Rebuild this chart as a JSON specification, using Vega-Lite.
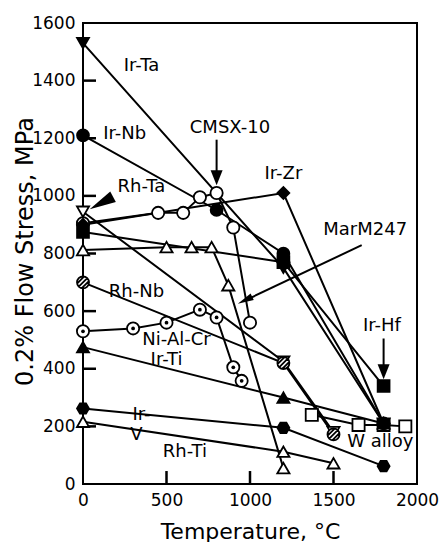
{
  "$schema": "https://vega.github.io/schema/vega-lite/v6.json",
  "width": 334,
  "height": 461,
  "autosize": {"type": "none"},
  "padding": {"left": 83, "top": 23, "right": 24, "bottom": 58},
  "background": "white",
  "config": {
    "view": {"stroke": "black", "strokeWidth": 2},
    "axis": {
      "grid": false,
      "domain": false,
      "ticks": false,
      "tickSize": 0,
      "labelPadding": 8,
      "labelFont": "DejaVu Sans",
      "labelFontSize": 17,
      "labelColor": "black",
      "titleFont": "DejaVu Sans",
      "titleFontSize": 22,
      "titleFontWeight": "normal",
      "titleColor": "black"
    }
  },
  "datasets": {
    "series": [
      {"s": "CMSX-10", "t": 0, "v": 905},
      {"s": "CMSX-10", "t": 450, "v": 941},
      {"s": "CMSX-10", "t": 600, "v": 941},
      {"s": "CMSX-10", "t": 700, "v": 995},
      {"s": "CMSX-10", "t": 800, "v": 1010},
      {"s": "CMSX-10", "t": 900, "v": 890},
      {"s": "CMSX-10", "t": 1000, "v": 560},
      {"s": "MarM247", "t": 0, "v": 812},
      {"s": "MarM247", "t": 500, "v": 822},
      {"s": "MarM247", "t": 650, "v": 822},
      {"s": "MarM247", "t": 770, "v": 822},
      {"s": "MarM247", "t": 870, "v": 690},
      {"s": "MarM247", "t": 1200, "v": 55},
      {"s": "Ni-Al-Cr", "t": 0, "v": 530},
      {"s": "Ni-Al-Cr", "t": 300, "v": 540},
      {"s": "Ni-Al-Cr", "t": 500, "v": 560},
      {"s": "Ni-Al-Cr", "t": 700, "v": 605},
      {"s": "Ni-Al-Cr", "t": 800, "v": 578},
      {"s": "Ni-Al-Cr", "t": 900, "v": 405},
      {"s": "Ni-Al-Cr", "t": 950, "v": 358},
      {"s": "W alloy", "t": 1370, "v": 240},
      {"s": "W alloy", "t": 1650, "v": 205},
      {"s": "W alloy", "t": 1800, "v": 205},
      {"s": "W alloy", "t": 1930, "v": 200},
      {"s": "Rh-Ti", "t": 0, "v": 216},
      {"s": "Rh-Ti", "t": 1200, "v": 112},
      {"s": "Rh-Ti", "t": 1500, "v": 72},
      {"s": "Rh-Ta", "t": 0, "v": 945},
      {"s": "Rh-Ta", "t": 1200, "v": 425},
      {"s": "Rh-Ta", "t": 1500, "v": 180},
      {"s": "Rh-Nb", "t": 0, "v": 700},
      {"s": "Rh-Nb", "t": 1200, "v": 420},
      {"s": "Rh-Nb", "t": 1500, "v": 172},
      {"s": "Ir-Ti", "t": 0, "v": 475},
      {"s": "Ir-Ti", "t": 1200, "v": 300},
      {"s": "Ir-Ti", "t": 1800, "v": 210},
      {"s": "Ir-V", "t": 0, "v": 262},
      {"s": "Ir-V", "t": 1200, "v": 195},
      {"s": "Ir-V", "t": 1800, "v": 62},
      {"s": "Ir-Nb", "t": 0, "v": 1210},
      {"s": "Ir-Nb", "t": 800, "v": 951},
      {"s": "Ir-Nb", "t": 1200, "v": 800},
      {"s": "Ir-Nb", "t": 1800, "v": 210},
      {"s": "Ir-Ta", "t": 0, "v": 1530},
      {"s": "Ir-Ta", "t": 1200, "v": 750},
      {"s": "Ir-Ta", "t": 1800, "v": 210},
      {"s": "Ir-Hf", "t": 0, "v": 875},
      {"s": "Ir-Hf", "t": 1200, "v": 770},
      {"s": "Ir-Hf", "t": 1800, "v": 340},
      {"s": "Ir-Zr", "t": 0, "v": 900},
      {"s": "Ir-Zr", "t": 1200, "v": 1010},
      {"s": "Ir-Zr", "t": 1800, "v": 210}
    ],
    "xticks": [{"t": 500}, {"t": 1000}, {"t": 1500}],
    "yticks": [{"v": 200}, {"v": 400}, {"v": 600}, {"v": 800}, {"v": 1000}, {"v": 1200}, {"v": 1400}],
    "arrows": [
      {"a": "CMSX-10", "t1": 800, "v1": 1195, "t2": 800, "v2": 1070},
      {"a": "Ir-Hf", "t1": 1800, "v1": 505, "t2": 1800, "v2": 395},
      {"a": "MarM247", "t1": 1669, "v1": 829, "t2": 985, "v2": 641}
    ],
    "vheads": [
      {"a": "CMSX-10", "t": 800, "v": 1063},
      {"a": "Ir-Hf", "t": 1800, "v": 390}
    ],
    "rhhead": [{"a": "Rh-Ta", "t": 110, "v": 975}],
    "mmhead": [{"a": "MarM247", "t": 970, "v": 638}],
    "labels": [
      {"label": "Ir-Ta", "t": 350, "v": 1450},
      {"label": "Ir-Nb", "t": 250, "v": 1215},
      {"label": "CMSX-10", "t": 880, "v": 1235},
      {"label": "Rh-Ta", "t": 350, "v": 1030},
      {"label": "Ir-Zr", "t": 1200, "v": 1075},
      {"label": "MarM247", "t": 1690, "v": 880},
      {"label": "Ir-Hf", "t": 1790, "v": 550},
      {"label": "Rh-Nb", "t": 320, "v": 665},
      {"label": "Ni-Al-Cr", "t": 560, "v": 500},
      {"label": "Ir-Ti", "t": 500, "v": 430},
      {"label": "Ir-", "t": 350, "v": 240},
      {"label": "V", "t": 320, "v": 170},
      {"label": "Rh-Ti", "t": 610, "v": 110},
      {"label": "W alloy", "t": 1780, "v": 145}
    ]
  },
  "layer": [
    {
      "data": {"name": "series"},
      "mark": {"type": "line", "stroke": "black", "strokeWidth": 2},
      "encoding": {
        "x": {"field": "t", "type": "quantitative", "scale": {"domain": [0, 2000], "nice": false},
          "axis": {"values": [0, 500, 1000, 1500, 2000], "format": "d", "title": "Temperature, °C", "labelFlush": false, "titleY": 54, "titleBaseline": "alphabetic"}},
        "y": {"field": "v", "type": "quantitative", "scale": {"domain": [0, 1600], "nice": false},
          "axis": {"values": [0, 200, 400, 600, 800, 1000, 1200, 1400, 1600], "format": "d", "title": "0.2% Flow Stress, MPa", "titleX": -51, "titleY": 228, "titleBaseline": "alphabetic", "titleFontSize": 24}},
        "detail": {"field": "s"}
      }
    },
    {
      "data": {"name": "xticks"},
      "mark": {"type": "rule", "color": "black", "strokeWidth": 2.5},
      "encoding": {
        "x": {"field": "t", "type": "quantitative"},
        "y": {"datum": 0},
        "y2": {"datum": 45}
      }
    },
    {
      "data": {"name": "yticks"},
      "mark": {"type": "rule", "color": "black", "strokeWidth": 2.5},
      "encoding": {
        "y": {"field": "v", "type": "quantitative"},
        "x": {"datum": 0},
        "x2": {"datum": 78}
      }
    },
    {
      "data": {"name": "arrows"},
      "mark": {"type": "rule", "stroke": "black", "strokeWidth": 2},
      "encoding": {
        "x": {"field": "t1", "type": "quantitative"},
        "y": {"field": "v1", "type": "quantitative"},
        "x2": {"field": "t2"},
        "y2": {"field": "v2"}
      }
    },
    {
      "data": {"name": "series"},
      "mark": {"type": "point", "filled": true, "stroke": "black", "strokeWidth": 1.8, "opacity": 1},
      "encoding": {
        "x": {"field": "t", "type": "quantitative"},
        "y": {"field": "v", "type": "quantitative"},
        "shape": {"field": "s", "type": "nominal", "legend": null,
          "scale": {
            "domain": ["CMSX-10", "MarM247", "Ni-Al-Cr", "W alloy", "Rh-Ti", "Rh-Ta", "Rh-Nb", "Ir-Ti", "Ir-V", "Ir-Nb", "Ir-Ta", "Ir-Hf", "Ir-Zr"],
            "range": ["circle", "triangle-up", "circle", "square", "triangle-up", "triangle-down", "M1,0A1,1,0,1,1,-1,0A1,1,0,1,1,1,0ZM-0.71,0.71L0.71,-0.71M-0.2,0.98L0.98,-0.2M-0.98,0.2L0.2,-0.98", "triangle-up", "M-1,0L-0.5,-0.866L0.5,-0.866L1,0L0.5,0.866L-0.5,0.866Z", "circle", "triangle-down", "square", "diamond"]}},
        "fill": {"field": "s", "type": "nominal", "legend": null,
          "scale": {
            "domain": ["CMSX-10", "MarM247", "Ni-Al-Cr", "W alloy", "Rh-Ti", "Rh-Ta", "Rh-Nb", "Ir-Ti", "Ir-V", "Ir-Nb", "Ir-Ta", "Ir-Hf", "Ir-Zr"],
            "range": ["white", "white", "white", "white", "white", "white", "white", "black", "black", "black", "black", "black", "black"]}},
        "size": {"field": "s", "type": "nominal", "legend": null,
          "scale": {
            "domain": ["CMSX-10", "MarM247", "Ni-Al-Cr", "W alloy", "Rh-Ti", "Rh-Ta", "Rh-Nb", "Ir-Ti", "Ir-V", "Ir-Nb", "Ir-Ta", "Ir-Hf", "Ir-Zr"],
            "range": [150, 140, 150, 140, 140, 110, 130, 130, 140, 110, 140, 140, 90]}}
      }
    },
    {
      "data": {"name": "series"},
      "transform": [{"filter": "datum.s === 'Ni-Al-Cr'"}],
      "mark": {"type": "point", "shape": "circle", "filled": true, "fill": "black", "size": 14, "opacity": 1},
      "encoding": {
        "x": {"field": "t", "type": "quantitative"},
        "y": {"field": "v", "type": "quantitative"}
      }
    },
    {
      "data": {"name": "vheads"},
      "mark": {"type": "point", "shape": "M-0.8,-1L0.8,-1L0,1Z", "filled": true, "fill": "black", "size": 225, "opacity": 1},
      "encoding": {
        "x": {"field": "t", "type": "quantitative"},
        "y": {"field": "v", "type": "quantitative"}
      }
    },
    {
      "data": {"name": "rhhead"},
      "mark": {"type": "point", "shape": "M0,-1L0.45,1L-0.45,1Z", "filled": true, "fill": "black", "size": 700, "angle": 242, "opacity": 1},
      "encoding": {
        "x": {"field": "t", "type": "quantitative"},
        "y": {"field": "v", "type": "quantitative"}
      }
    },
    {
      "data": {"name": "mmhead"},
      "mark": {"type": "point", "shape": "M0,-1L0.45,1L-0.45,1Z", "filled": true, "fill": "black", "size": 256, "angle": 244, "opacity": 1},
      "encoding": {
        "x": {"field": "t", "type": "quantitative"},
        "y": {"field": "v", "type": "quantitative"}
      }
    },
    {
      "data": {"name": "labels"},
      "mark": {"type": "text", "font": "DejaVu Sans", "fontSize": 18, "fill": "black", "align": "center", "baseline": "middle"},
      "encoding": {
        "x": {"field": "t", "type": "quantitative"},
        "y": {"field": "v", "type": "quantitative"},
        "text": {"field": "label"}
      }
    }
  ]
}
